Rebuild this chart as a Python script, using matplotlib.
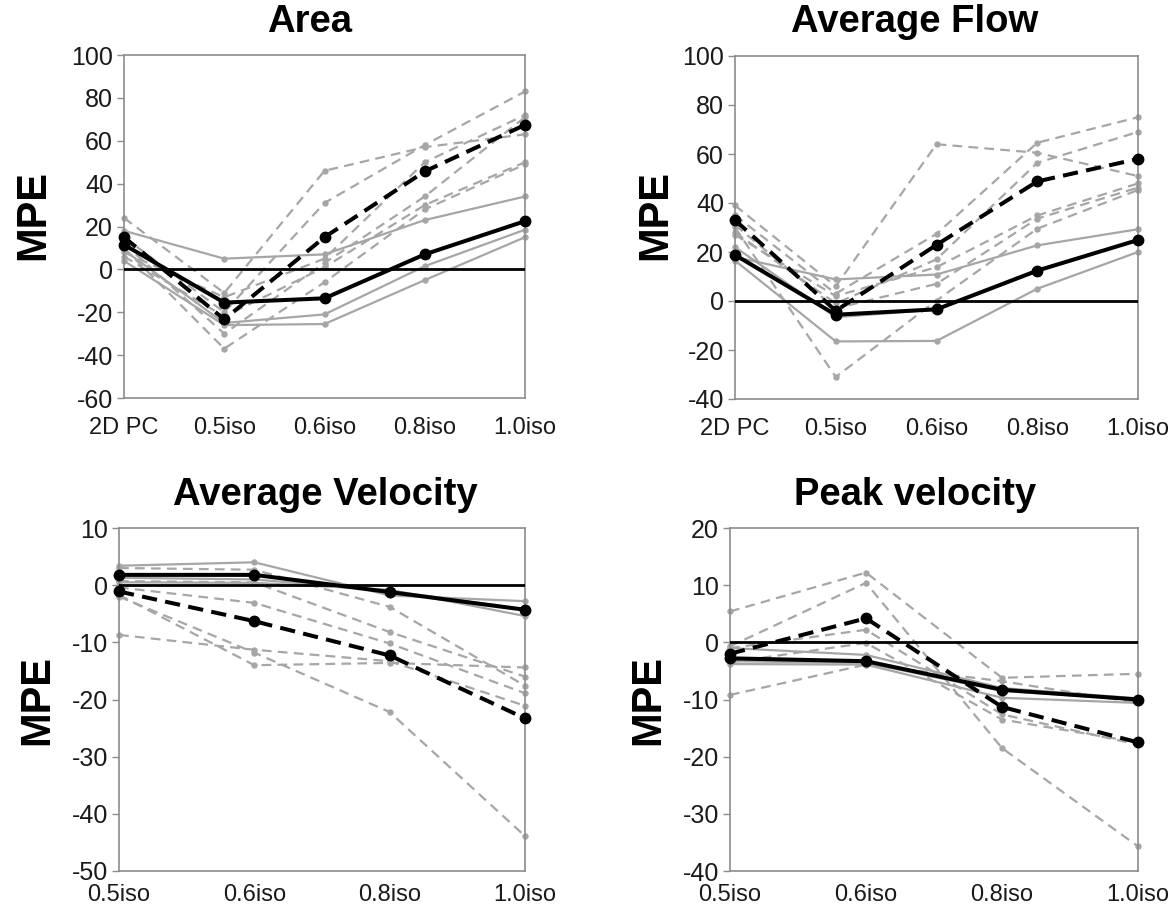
import matplotlib
matplotlib.use('Agg')
import matplotlib.pyplot as plt

plt.rcParams['font.family'] = 'Liberation Sans'
plt.rcParams['axes.unicode_minus'] = False
plt.rcParams['lines.scale_dashes'] = False

W, H = 1176, 913
GREY = '#a6a6a6'
FRAME = '#8c8c8c'

# x categories
cats_2d = ['2D PC', '0.5iso', '0.6iso', '0.8iso', '1.0iso']
cats_iso = ['0.5iso', '0.6iso', '0.8iso', '1.0iso']

# Area MPE (%)
area_solid = [[18, 5, 7, 23, 34],
              [9, -25, -21, 1.5, 18.5],
              [4, -26, -25.5, -5, 15]]
area_dashed = [[24, -11, 46, 57, 63],
               [15, -20, 31, 58, 83],
               [8, -13, 5, 50, 72],
               [12, -30, 3, 34, 71],
               [6, -22, 1, 30, 50],
               [10, -37, -6, 28, 49]]
area_solid_mean = [11.5, -15.5, -13.5, 7, 22.5]
area_dashed_mean = [15, -23.3, 15, 45.7, 67.4]

# Average flow MPE (%)
flow_solid = [[18, 8.8, 10.8, 22.7, 29.3],
              [22, -6.6, -3.5, 12, 25],
              [16.5, -16.5, -16.3, 5, 20]]
flow_dashed = [[30, -31, 0.2, 29.5, 45.3],
               [39, 6, 64, 60.5, 51],
               [35, 3, 27.4, 64.6, 75],
               [28, -1, 17, 56.4, 69],
               [27, 2, 13.8, 34.9, 48],
               [31, -3, 7, 33.6, 46.3]]
flow_solid_mean = [18.8, -5.6, -3.4, 12.4, 24.9]
flow_dashed_mean = [33, -4, 22.9, 48.8, 58]

# Average velocity MPE (%)
vel_solid = [[3.4, 4.0, -1.8, -2.8],
             [1.3, 1.0, -1.0, -4.2],
             [0.5, 0.4, -0.8, -5.4]]
vel_dashed = [[3.0, 2.7, -3.8, -17.6],
              [0.7, 0.5, -8.2, -16.0],
              [-0.4, -3.1, -10.2, -18.9],
              [-8.7, -11.3, -13.3, -21.1],
              [-1.7, -14.0, -13.6, -14.4],
              [-2.0, -11.8, -22.2, -43.9]]
vel_solid_mean = [1.8, 1.8, -1.2, -4.3]
vel_dashed_mean = [-1.1, -6.3, -12.3, -23.3]

# Peak velocity MPE (%)
peak_solid = [[-1.0, -2.2, -8.0, -9.8],
              [-3.3, -3.6, -8.5, -10.0],
              [-3.8, -3.9, -9.7, -10.6]]
peak_dashed = [[5.4, 12.2, -6.2, -5.5],
               [-0.7, 10.4, -18.5, -35.7],
               [-1.0, 2.2, -12.6, -17.9],
               [-3.5, -0.1, -13.5, -17.5],
               [-9.2, -3.9, -6.8, -10.6]]
peak_solid_mean = [-2.8, -3.3, -8.3, -10.0]
peak_dashed_mean = [-2.0, 4.2, -11.3, -17.5]


def px_axes(fig, x0, y0, x1, y1):
    # pixel box (top-left origin) -> figure axes
    return fig.add_axes([x0 / W, 1 - y1 / H, (x1 - x0) / W, (y1 - y0) / H])


def draw_panel(ax, cats, solid, dashed, solid_mean, dashed_mean,
               ymin, ymax, step, xpad):
    x = list(range(len(cats)))
    for s in solid:
        ax.plot(x, s, color=GREY, lw=1.6, marker='o', ms=3.6,
                clip_on=False, zorder=2)
    for d in dashed:
        ax.plot(x, d, color=GREY, lw=1.6, marker='o', ms=3.6,
                dashes=(7, 4.5), clip_on=False, zorder=2)
    ax.axhline(0, color='black', lw=2.0, zorder=3)
    ax.plot(x, solid_mean, color='black', lw=2.9, marker='o', ms=7.5,
            clip_on=False, zorder=4)
    ax.plot(x, dashed_mean, color='black', lw=2.9, marker='o', ms=7.5,
            dashes=(11, 6), clip_on=False, zorder=4)

    ax.set_xlim(0, len(cats) - 1)
    ax.set_ylim(ymin, ymax)
    ax.set_xticks(x)
    ax.set_xticklabels(cats)
    ax.set_yticks(range(ymin, ymax + 1, step))
    ax.tick_params(axis='x', length=0, pad=xpad, labelsize=17,
                   labelcolor='#1a1a1a')
    ax.tick_params(axis='y', length=5, width=1.0, color=FRAME, pad=3,
                   labelsize=18, labelcolor='#1a1a1a')
    for sp in ax.spines.values():
        sp.set_color(FRAME)
        sp.set_linewidth(1.2)


fig = plt.figure(figsize=(W / 100, H / 100), dpi=100)

ax1 = px_axes(fig, 124, 55, 525, 398)
draw_panel(ax1, cats_2d, area_solid, area_dashed, area_solid_mean,
           area_dashed_mean, -60, 100, 20, 13.5)

ax2 = px_axes(fig, 735, 56, 1138, 399)
draw_panel(ax2, cats_2d, flow_solid, flow_dashed, flow_solid_mean,
           flow_dashed_mean, -40, 100, 20, 13.5)

ax3 = px_axes(fig, 119, 528, 525, 871)
draw_panel(ax3, cats_iso, vel_solid, vel_dashed, vel_solid_mean,
           vel_dashed_mean, -50, 10, 10, 9)

ax4 = px_axes(fig, 730, 528, 1138, 871)
draw_panel(ax4, cats_iso, peak_solid, peak_dashed, peak_solid_mean,
           peak_dashed_mean, -40, 20, 10, 9)

# panel titles and y labels
titles = [('Area', 310, 22), ('Average Flow', 915, 22),
          ('Average Velocity', 325, 495), ('Peak velocity', 915, 495)]
for t, x, y in titles:
    fig.text(x / W, 1 - y / H, t, ha='center', va='center',
             fontsize=27.5, fontweight='bold')

for x, y in [(33, 215), (655, 215), (37, 700), (648, 700)]:
    fig.text(x / W, 1 - y / H, 'MPE', ha='center', va='center',
             rotation=90, fontsize=30, fontweight='bold')

fig.savefig('out.png', dpi=100)
